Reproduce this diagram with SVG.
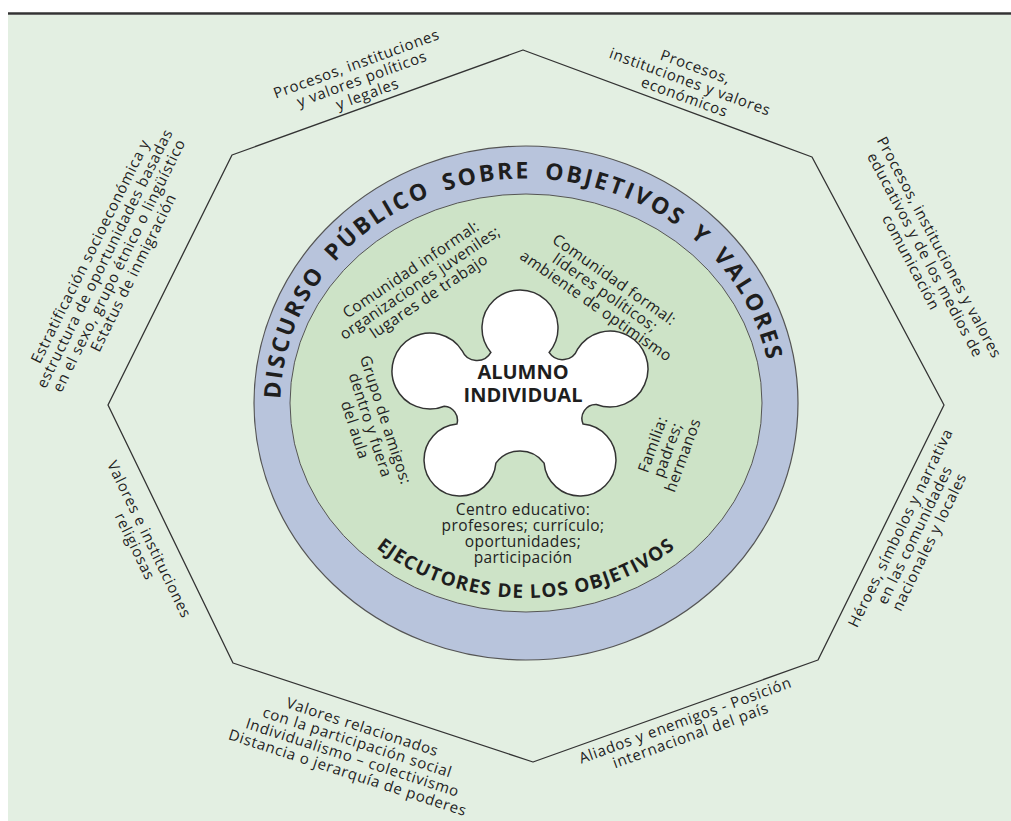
<svg xmlns="http://www.w3.org/2000/svg" width="1011" height="821" viewBox="0 0 1011 821">
<defs>
<style>
.lbl{font-family:"Open Sans","Liberation Sans",sans-serif;font-size:15px;fill:#222;text-anchor:middle;letter-spacing:0.7px}
.in{font-family:"Open Sans","Liberation Sans",sans-serif;font-size:15.5px;fill:#222;text-anchor:middle;letter-spacing:0.4px}
.ring{font-family:"Open Sans","Liberation Sans",sans-serif;font-weight:bold;font-size:23px;fill:#1e1e1e;letter-spacing:2.6px;word-spacing:5px}
.exec{font-family:"Open Sans","Liberation Sans",sans-serif;font-weight:bold;font-size:19px;fill:#1e1e1e;letter-spacing:1.2px;text-anchor:middle}
.core{font-family:"Open Sans","Liberation Sans",sans-serif;font-weight:bold;font-size:20px;fill:#1e1e1e;text-anchor:middle}
.edge{fill:none;stroke:#333;stroke-width:1.3;stroke-linejoin:round}
</style>
<path id="arcTop" d="M 280.5 403 A 245.5 224.5 0 0 1 771.5 403"/>
<path id="arcBot" d="M 302 402 A 224 196 0 0 0 750 402"/>
</defs>
<rect x="8" y="15" width="1003" height="806" fill="#e3efe2"/>
<line x1="8" y1="13.5" x2="1011" y2="13.5" stroke="#333" stroke-width="2.5"/>
<g id="octagon">
<polygon points="523,50 812,157 944,405 818,660 533,762 233,663 108,405 232,155" fill="#fff" class="edge"/>
</g>
<g id="outer-ring">
<ellipse cx="526" cy="403" rx="272" ry="257" fill="#b8c4dc" stroke="#555" stroke-width="1.2"/>
<text class="ring"><textPath href="#arcTop" startOffset="4">DISCURSO PÚBLICO SOBRE OBJETIVOS Y VALORES</textPath></text>
</g>
<g id="inner-circle">
<ellipse cx="526" cy="403" rx="236" ry="209" fill="#cde3c7" stroke="#555" stroke-width="1"/>
<text class="exec"><textPath href="#arcBot" startOffset="50%">EJECUTORES DE LOS OBJETIVOS</textPath></text>
</g>
<g id="flower">
<path d="M 490.9 352.4 A 38 38 0 1 1 549.1 352.4 A 16 16 0 0 0 577.4 349.4 A 38 38 0 1 1 596.4 404.5 A 14 14 0 0 0 583.1 424.1 A 36 36 0 1 1 544.1 463.1 A 30 30 0 0 0 495.9 463.1 A 36 36 0 1 1 456.9 424.1 A 14 14 0 0 0 444.3 406.2 A 38 38 0 1 1 462.2 350.8 A 16 16 0 0 0 490.9 352.4 Z" fill="#fff" stroke="#333" stroke-width="1.5"/>
<text class="core" x="523" y="379">ALUMNO</text>
<text class="core" x="523" y="402">INDIVIDUAL</text>
</g>
<g id="comunidad-informal" transform="translate(420,283) rotate(-34)">
<text class="in" y="-11">Comunidad informal:</text>
<text class="in" y="5">organizaciones juveniles;</text>
<text class="in" y="21">lugares de trabajo</text>
</g>
<g id="comunidad-formal" transform="translate(605,293) rotate(35)">
<text class="in" y="-11">Comunidad formal:</text>
<text class="in" y="5">líderes políticos;</text>
<text class="in" y="21">ambiente de optimismo</text>
</g>
<g id="grupo-amigos" transform="translate(370,425) rotate(72)">
<text class="in" y="-11">Grupo de amigos:</text>
<text class="in" y="5">dentro y fuera</text>
<text class="in" y="21">del aula</text>
</g>
<g id="familia" transform="translate(668,450) rotate(-70)">
<text class="in" y="-11">Familia:</text>
<text class="in" y="5">padres;</text>
<text class="in" y="21">hermanos</text>
</g>
<g id="centro-educativo">
<text class="in" x="523" y="515">Centro educativo:</text>
<text class="in" x="523" y="531">profesores; currículo;</text>
<text class="in" x="523" y="547">oportunidades;</text>
<text class="in" x="523" y="563">participación</text>
</g>
<g id="politicos" transform="translate(362,79) rotate(-20)">
<text class="lbl" y="-11">Procesos, instituciones</text>
<text class="lbl" y="5">y valores políticos</text>
<text class="lbl" y="21">y legales</text>
</g>
<g id="economicos" transform="translate(690,82) rotate(20)">
<text class="lbl" y="-11">Procesos,</text>
<text class="lbl" y="5">instituciones y valores</text>
<text class="lbl" y="21">económicos</text>
</g>
<g id="educativos" transform="translate(925,255) rotate(62)">
<text class="lbl" y="-11">Procesos, instituciones y valores</text>
<text class="lbl" y="5">educativos y de los medios de</text>
<text class="lbl" y="21">comunicación</text>
</g>
<g id="heroes" transform="translate(915,535) rotate(-64)">
<text class="lbl" y="-11">Héroes, símbolos y narrativa</text>
<text class="lbl" y="5">en las comunidades</text>
<text class="lbl" y="21">nacionales y locales</text>
</g>
<g id="aliados" transform="translate(688,728) rotate(-20)">
<text class="lbl" y="-3">Aliados y enemigos - Posición</text>
<text class="lbl" y="13">internacional del país</text>
</g>
<g id="participacion" transform="translate(355,750) rotate(18)">
<text class="lbl" y="-19">Valores relacionados</text>
<text class="lbl" y="-3">con la participación social</text>
<text class="lbl" y="13">Individualismo – colectivismo</text>
<text class="lbl" y="29">Distancia  o jerarquía de poderes</text>
</g>
<g id="religiosas" transform="translate(142,543) rotate(64)">
<text class="lbl" y="-3">Valores e instituciones</text>
<text class="lbl" y="13">religiosas</text>
</g>
<g id="estratificacion" transform="translate(112,262) rotate(-63.6)">
<text class="lbl" y="-19">Estratificación socioeconómica y</text>
<text class="lbl" y="-3">estructura de oportunidades basadas</text>
<text class="lbl" y="13">en el sexo, grupo étnico o lingüístico</text>
<text class="lbl" y="29">Estatus de inmigración</text>
</g>
</svg>
